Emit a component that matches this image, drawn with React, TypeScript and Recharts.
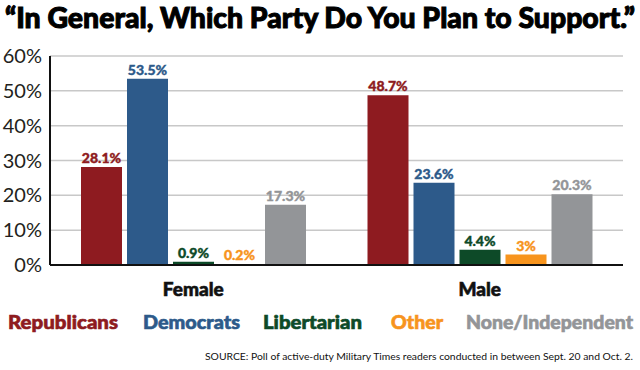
import React from "react";
import { BarChart, Bar, XAxis, YAxis, CartesianGrid, LabelList, Legend } from "recharts";

const categories = ["Female", "Male"];
const republicans = [28.1, 48.7];
const democrats = [53.5, 23.6];
const libertarian = [0.9, 4.4];
const other = [0.2, 3];
const noneIndependent = [17.3, 20.3];
const yTicks = [0, 10, 20, 30, 40, 50, 60];

const seriesNames = ["Republicans", "Democrats", "Libertarian", "Other", "None/Independent"];
const seriesKeys = ["rep", "dem", "lib", "oth", "none"];
const seriesColors = ["#8e1b20", "#2d5a8a", "#0d4a28", "#f7941d", "#939598"];

const title = "\u201CIn General, Which Party Do You Plan to Support.\u201D";
const source = "SOURCE: Poll of active-duty Military Times readers conducted in between Sept. 20 and Oct. 2.";

const data = categories.map((c, i) => ({
  name: c,
  rep: republicans[i],
  dem: democrats[i],
  lib: libertarian[i],
  oth: other[i],
  none: noneIndependent[i],
}));

const FONT = "Lato, 'Open Sans', sans-serif";

const legendLayout = [
  { x: 8, w: 110 },
  { x: 143, w: 97 },
  { x: 263, w: 99 },
  { x: 391, w: 52 },
  { x: 466, w: 167 },
];

const LegendContent = () => (
  <svg width={640} height={30} style={{ display: "block" }}>
    {seriesNames.map((n, i) => (
      <text
        key={n}
        x={legendLayout[i].x}
        y={24}
        fill={seriesColors[i]}
        stroke={seriesColors[i]}
        strokeWidth={0.6}
        fontFamily={FONT}
        fontWeight={900}
        fontSize={18}
        textLength={legendLayout[i].w}
        lengthAdjust="spacingAndGlyphs"
      >
        {n}
      </text>
    ))}
  </svg>
);

export default function App() {
  return (
    <div style={{ position: "relative", width: 640, height: 370, background: "#fff" }}>
      <style>{"body{margin:0}"}</style>
      <BarChart
        width={640}
        height={370}
        data={data}
        margin={{ top: 56, right: 17, bottom: 35, left: 0 }}
        barSize={41}
        barGap={5}
      >
        <CartesianGrid vertical={false} stroke="#c8c8c8" strokeWidth={1.5} />
        <XAxis
          dataKey="name"
          height={40}
          tickLine={false}
          tickMargin={12}
          axisLine={{ stroke: "#111", strokeWidth: 2 }}
          tick={{ fill: "#111", stroke: "#111", strokeWidth: 0.6, fontFamily: FONT, fontWeight: 900, fontSize: 19 }}
        />
        <YAxis
          width={50}
          domain={[0, 60]}
          ticks={yTicks}
          tickFormatter={(v) => `${v}%`}
          tickLine={false}
          axisLine={{ stroke: "#111", strokeWidth: 2 }}
          tick={{ fill: "#231f20", fontFamily: FONT, fontSize: 20 }}
        />
        <Legend verticalAlign="bottom" height={30} content={<LegendContent />} />
        {seriesKeys.map((k, i) => (
          <Bar key={k} dataKey={k} name={seriesNames[i]} fill={seriesColors[i]} isAnimationActive={false}>
            <LabelList
              dataKey={k}
              position="top"
              offset={4}
              formatter={(v) => `${v}%`}
              fill={seriesColors[i]}
              stroke={seriesColors[i]}
              strokeWidth={0.4}
              style={{ fontFamily: FONT, fontWeight: 900, fontSize: 14 }}
            />
          </Bar>
        ))}
      </BarChart>
      <svg width={640} height={370} style={{ position: "absolute", left: 0, top: 0, pointerEvents: "none" }}>
        <text
          x={5}
          y={28}
          fontFamily={FONT}
          fontWeight={900}
          fontSize={28}
          fill="#000"
          stroke="#000"
          strokeWidth={1}
          textLength={630}
          lengthAdjust="spacingAndGlyphs"
        >
          {title}
        </text>
        <text
          x={205}
          y={360}
          fontFamily={FONT}
          fontSize={10.4}
          fill="#111"
          textLength={428}
          lengthAdjust="spacingAndGlyphs"
        >
          {source}
        </text>
      </svg>
    </div>
  );
}
